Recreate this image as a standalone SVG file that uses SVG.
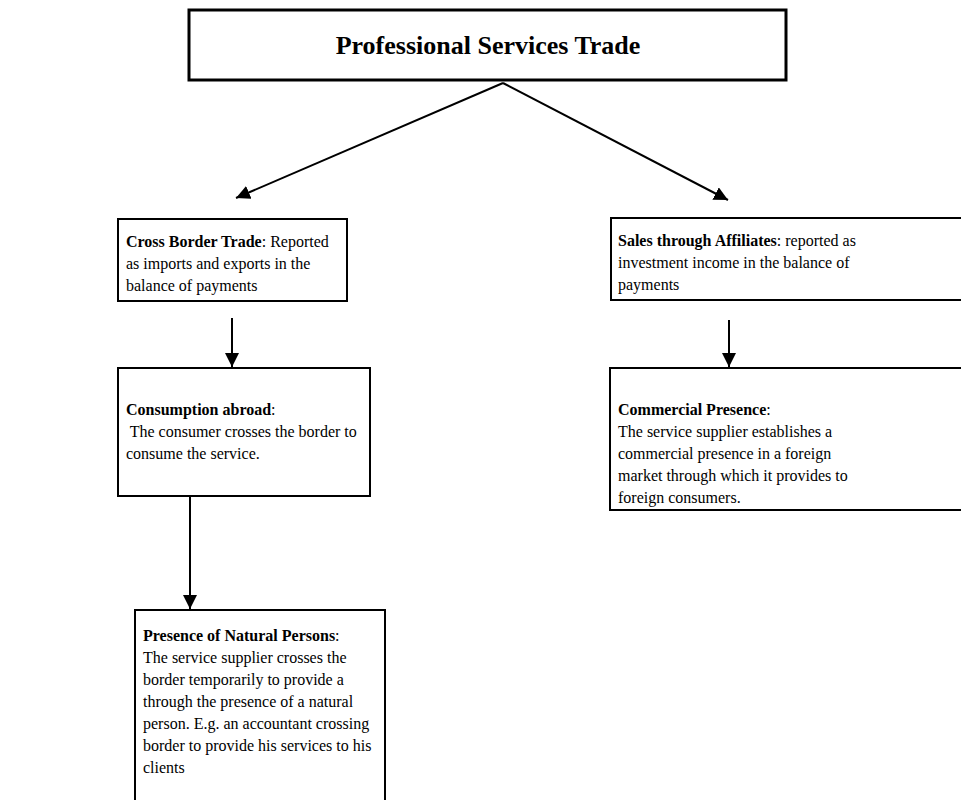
<svg xmlns="http://www.w3.org/2000/svg" width="961" height="800" viewBox="0 0 961 800">
  <style>
    .box { fill: #fff; stroke: #000; stroke-width: 2; }
    .title { font-family: "Liberation Serif", "Times New Roman", serif; font-size: 26px; font-weight: bold; fill: #000; }
    .txt { font-family: "Liberation Serif", "Times New Roman", serif; font-size: 16px; fill: #000; }
    .b { font-weight: bold; }
    .conn { stroke: #000; stroke-width: 2; fill: none; }
  </style>
  <defs>
    <marker id="arrow" viewBox="0 0 14 14" refX="14" refY="7" markerWidth="14" markerHeight="14" markerUnits="userSpaceOnUse" orient="auto">
      <path d="M0,0 L14,7 L0,14 Z" fill="#000"/>
    </marker>
  </defs>
  <rect width="961" height="800" fill="#fff"/>

  <g id="connectors">
    <line class="conn" x1="503" y1="83" x2="236" y2="198" marker-end="url(#arrow)"/>
    <line class="conn" x1="503" y1="83" x2="728" y2="200" marker-end="url(#arrow)"/>
    <line class="conn" x1="232" y1="318" x2="232" y2="367" marker-end="url(#arrow)"/>
    <line class="conn" x1="729" y1="320" x2="729" y2="367" marker-end="url(#arrow)"/>
    <line class="conn" x1="190" y1="497" x2="190" y2="609" marker-end="url(#arrow)"/>
  </g>

  <g id="professional-services-trade">
    <rect class="box" x="189" y="10" width="597" height="70" style="stroke-width:3"/>
    <text class="title" x="488" y="54" text-anchor="middle">Professional Services Trade</text>
  </g>

  <g id="cross-border-trade">
    <rect class="box" x="118" y="219" width="229" height="82"/>
    <text class="txt" x="126" y="247"><tspan class="b">Cross Border Trade</tspan>: Reported</text>
    <text class="txt" x="126" y="269">as imports and exports in the</text>
    <text class="txt" x="126" y="291">balance of payments</text>
  </g>

  <g id="sales-through-affiliates">
    <rect class="box" x="611" y="218" width="360" height="82"/>
    <text class="txt" x="618" y="246"><tspan class="b">Sales through Affiliates</tspan>: reported as</text>
    <text class="txt" x="618" y="268">investment income in the balance of</text>
    <text class="txt" x="618" y="290">payments</text>
  </g>

  <g id="consumption-abroad">
    <rect class="box" x="118" y="368" width="252" height="128"/>
    <text class="txt" x="126" y="415"><tspan class="b">Consumption abroad</tspan>:</text>
    <text class="txt" x="126" y="437" xml:space="preserve"> The consumer crosses the border to</text>
    <text class="txt" x="126" y="459">consume the service.</text>
  </g>

  <g id="commercial-presence">
    <rect class="box" x="610" y="368" width="361" height="142"/>
    <text class="txt" x="618" y="415"><tspan class="b">Commercial Presence</tspan>:</text>
    <text class="txt" x="618" y="437">The service supplier establishes a</text>
    <text class="txt" x="618" y="459">commercial presence in a foreign</text>
    <text class="txt" x="618" y="481">market through which it provides to</text>
    <text class="txt" x="618" y="503">foreign consumers.</text>
  </g>

  <g id="presence-of-natural-persons">
    <path class="box" d="M135,801 V610 H385 V801"/>
    <text class="txt" x="143" y="641"><tspan class="b">Presence of Natural Persons</tspan>:</text>
    <text class="txt" x="143" y="663">The service supplier crosses the</text>
    <text class="txt" x="143" y="685">border temporarily to provide a</text>
    <text class="txt" x="143" y="707">through the presence of a natural</text>
    <text class="txt" x="143" y="729">person. E.g. an accountant crossing</text>
    <text class="txt" x="143" y="751">border to provide his services to his</text>
    <text class="txt" x="143" y="773">clients</text>
  </g>
</svg>
